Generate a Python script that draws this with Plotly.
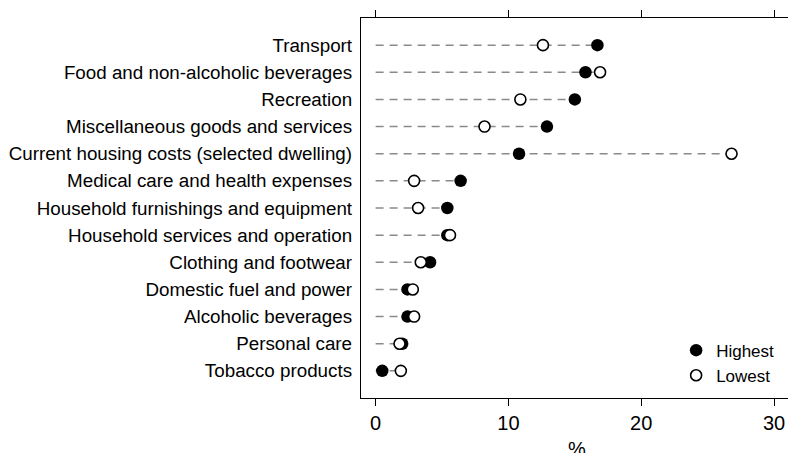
import plotly.graph_objects as go

categories = [
    "Transport",
    "Food and non-alcoholic beverages",
    "Recreation",
    "Miscellaneous goods and services",
    "Current housing costs (selected dwelling)",
    "Medical care and health expenses",
    "Household furnishings and equipment",
    "Household services and operation",
    "Clothing and footwear",
    "Domestic fuel and power",
    "Alcoholic beverages",
    "Personal care",
    "Tobacco products",
]
highest = [16.7, 15.8, 15.0, 12.9, 10.8, 6.4, 5.4, 5.4, 4.1, 2.4, 2.4, 2.0, 0.5]
lowest = [12.6, 16.9, 10.9, 8.2, 26.8, 2.9, 3.2, 5.6, 3.4, 2.8, 2.9, 1.8, 1.9]
x_ticks = [0, 10, 20, 30]
x_title = "%"

FONT = "Liberation Sans, Arial, sans-serif"

# dashed guide lines from 0 to the larger of the two values
line_x, line_y = [], []
for c, h, l in zip(categories, highest, lowest):
    line_x += [0, max(h, l), None]
    line_y += [c, c, None]

fig = go.Figure()
fig.add_trace(go.Scatter(
    x=line_x, y=line_y, mode="lines",
    line=dict(color="#8a8a8a", width=1.5, dash="8px,6px"),
    hoverinfo="skip", showlegend=False,
))
fig.add_trace(go.Scatter(
    x=highest, y=categories, mode="markers", name="Highest",
    marker=dict(size=12.5, color="black", line=dict(width=0)),
))
fig.add_trace(go.Scatter(
    x=lowest, y=categories, mode="markers", name="Lowest",
    marker=dict(size=11, color="white", line=dict(width=1.6, color="black")),
))

fig.update_layout(
    width=788, height=453,
    margin=dict(l=361, r=0, t=18, b=55, autoexpand=False),
    paper_bgcolor="white", plot_bgcolor="white",
    font=dict(family=FONT, color="black"),
    legend=dict(
        x=0.738, xanchor="left", y=0.172, yanchor="top",
        font=dict(size=17), bgcolor="rgba(0,0,0,0)",
        itemwidth=30, tracegroupgap=0,
    ),
    xaxis=dict(
        range=[-1.1, 31.05], tickvals=x_ticks, ticktext=[str(v) for v in x_ticks],
        showgrid=False, zeroline=False, automargin=False,
        showline=True, linecolor="black", linewidth=1.3,
        ticks="outside", ticklen=7, tickwidth=1.3, tickcolor="black",
        mirror="ticks", tickfont=dict(size=20),
    ),
    yaxis=dict(
        categoryorder="array", categoryarray=categories[::-1],
        range=[-1, 13], automargin=False,
        showgrid=False, zeroline=False,
        showline=True, linecolor="black", linewidth=1.3,
        ticks="", tickfont=dict(size=18.8), ticklabelstandoff=4,
    ),
    annotations=[dict(
        text=x_title, xref="x domain", yref="y domain", x=0.505, y=0,
        xanchor="center", yanchor="top", yshift=-38, showarrow=False,
        font=dict(size=20),
    )],
)

fig.write_html(
    "out.html",
    config={"displayModeBar": False},
    post_script="document.body.style.margin='0px';document.body.style.overflow='hidden';",
)
